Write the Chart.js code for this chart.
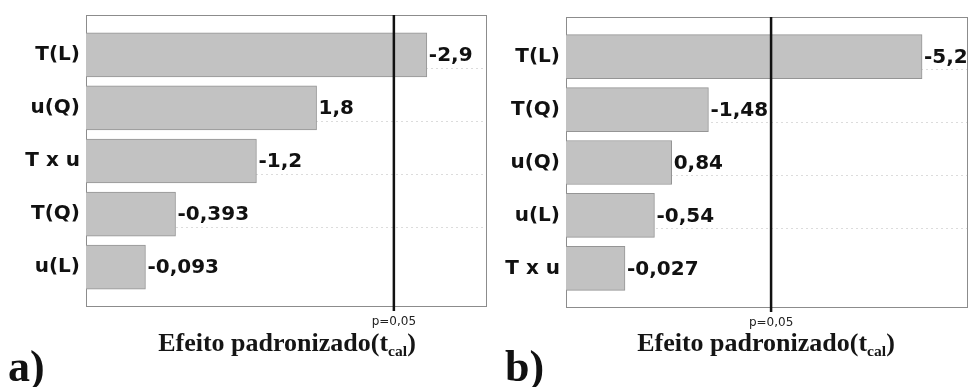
<!DOCTYPE html>
<html>
<head>
<meta charset="utf-8">
<script src="https://cdn.jsdelivr.net/npm/chart.js@4.4.1/dist/chart.umd.min.js"></script>
<style>
  body { margin: 0; background: #fff; }
  #wrap { position: relative; width: 971px; height: 387px; overflow: hidden; background: #fff; }
  .panel { position: absolute; top: 0; height: 387px; }
  .xtitle {
    position: absolute; top: 329px; width: 400px; text-align: center;
    font-family: "Liberation Serif", "Times New Roman", serif; font-weight: bold;
    font-size: 25px; color: #151515; white-space: nowrap;
    transform: scaleX(1.04);
  }
  .xtitle sub { font-size: 15px; vertical-align: -5px; }
  .plabel {
    position: absolute; top: 345px;
    font-family: "Liberation Serif", "Times New Roman", serif; font-weight: bold;
    font-size: 44px; color: #111; line-height: 44px;
  }
</style>
</head>
<body>
<div id="wrap">
  <div class="panel" style="left:0;width:490px"><canvas id="chartA" width="490" height="387"></canvas></div>
  <div class="panel" style="left:480px;width:491px"><canvas id="chartB" width="491" height="387"></canvas></div>
  <div class="xtitle" style="left:87px">Efeito padronizado(t<sub>cal</sub>)</div>
  <div class="xtitle" style="left:566px">Efeito padronizado(t<sub>cal</sub>)</div>
  <div class="plabel" style="left:8px">a)</div>
  <div class="plabel" style="left:505px">b)</div>
</div>
<script>
// standardized effects (Pareto chart), bar length = |t|
const catsA = ['T(L)', 'u(Q)', 'T x u', 'T(Q)', 'u(L)'];
const effectsA = [-2.9, 1.8, -1.2, -0.393, -0.093];
const rangeA = [-0.5, 3.5];

const catsB = ['T(L)', 'T(Q)', 'u(Q)', 'u(L)', 'T x u'];
const effectsB = [-5.2, -1.48, 0.84, -0.54, -0.027];
const rangeB = [-1, 6];

const tCrit = 2.571;
const critLabel = 'p=0,05';

function fmt(v) {
    return String(v).replace('.', ',');
}

const framePlugin = {
    id: 'frame',
    beforeDatasetsDraw(chart) {
        const a = chart.chartArea, ctx = chart.ctx;
        ctx.save();
        ctx.strokeStyle = '#8c8c8c';
        ctx.lineWidth = 1;
        ctx.strokeRect(a.left + 0.5, a.top + 0.5, a.right - a.left - 1, a.bottom - a.top - 1);
        ctx.restore();
    }
};

const critPlugin = {
    id: 'crit',
    afterDatasetsDraw(chart) {
        const a = chart.chartArea, ctx = chart.ctx;
        const x = chart.scales.x.getPixelForValue(tCrit);
        ctx.save();
        ctx.strokeStyle = '#111';
        ctx.lineWidth = 2.5;
        ctx.beginPath();
        ctx.moveTo(x, a.top);
        ctx.lineTo(x, a.bottom + 4);
        ctx.stroke();
        ctx.restore();
    }
};

const valuePlugin = {
    id: 'values',
    afterDatasetsDraw(chart) {
        const ctx = chart.ctx;
        const meta = chart.getDatasetMeta(0);
        const effects = chart.data.datasets[0].effects;
        ctx.save();
        ctx.font = 'bold 20px "DejaVu Sans"';
        ctx.fillStyle = '#111';
        ctx.textAlign = 'left';
        ctx.textBaseline = 'middle';
        meta.data.forEach((bar, i) => {
            ctx.fillText(fmt(effects[i]), bar.x + 2, bar.y + 1);
        });
        ctx.restore();
    }
};

function makeChart(id, cats, effects, range, top, bottom) {
    const ctx = document.getElementById(id).getContext('2d');
    const pad = 0.75;
    return new Chart(ctx, {
        type: 'bar',
        data: {
            datasets: [{
                data: effects.map((e, i) => ({ x: Math.abs(e), y: i })),
                effects: effects,
                base: range[0],
                backgroundColor: '#c2c2c2',
                borderColor: '#959595',
                borderWidth: 1,
                barThickness: 44
            }]
        },
        options: {
            indexAxis: 'y',
            responsive: false,
            devicePixelRatio: 1,
            animation: false,
            layout: { padding: { top: top, right: 3, left: 0, bottom: 0 } },
            plugins: { legend: { display: false }, tooltip: { enabled: false } },
            scales: {
                x: {
                    type: 'linear',
                    min: range[0],
                    max: range[1],
                    afterBuildTicks: s => { s.ticks = [{ value: tCrit }]; },
                    afterFit: s => { s.height = 387 - bottom; s.paddingLeft = 0; s.paddingRight = 0; },
                    grid: { display: true, drawOnChartArea: false, tickLength: 4, color: '#111', lineWidth: 2 },
                    border: { display: false },
                    ticks: {
                        callback: () => critLabel,
                        padding: 4,
                        maxRotation: 0,
                        font: { family: 'DejaVu Sans', size: 12 },
                        color: '#222'
                    }
                },
                y: {
                    type: 'linear',
                    reverse: true,
                    offset: false,
                    min: -pad,
                    max: cats.length - 1 + pad,
                    afterBuildTicks: s => {
                        const t = [];
                        cats.forEach((c, i) => {
                            t.push({ value: i });
                            if (i < cats.length - 1) t.push({ value: i + 0.5 });
                        });
                        s.ticks = t;
                    },
                    afterFit: s => { s.width = 86; s.paddingTop = 0; s.paddingBottom = 0; },
                    grid: {
                        drawTicks: false,
                        color: c => (c.tick && c.tick.value % 1 !== 0) ? '#dcdcdc' : 'rgba(0,0,0,0)'
                    },
                    border: { display: false, dash: [2, 3] },
                    ticks: {
                        callback: v => Number.isInteger(v) ? cats[v] : '',
                        padding: 6,
                        font: { family: 'DejaVu Sans', size: 20, weight: 'bold' },
                        color: '#111',
                        autoSkip: false
                    }
                }
            }
        },
        plugins: [framePlugin, critPlugin, valuePlugin]
    });
}

makeChart('chartA', catsA, effectsA, rangeA, 15, 307);
makeChart('chartB', catsB, effectsB, rangeB, 17, 308);
</script>
</body>
</html>
